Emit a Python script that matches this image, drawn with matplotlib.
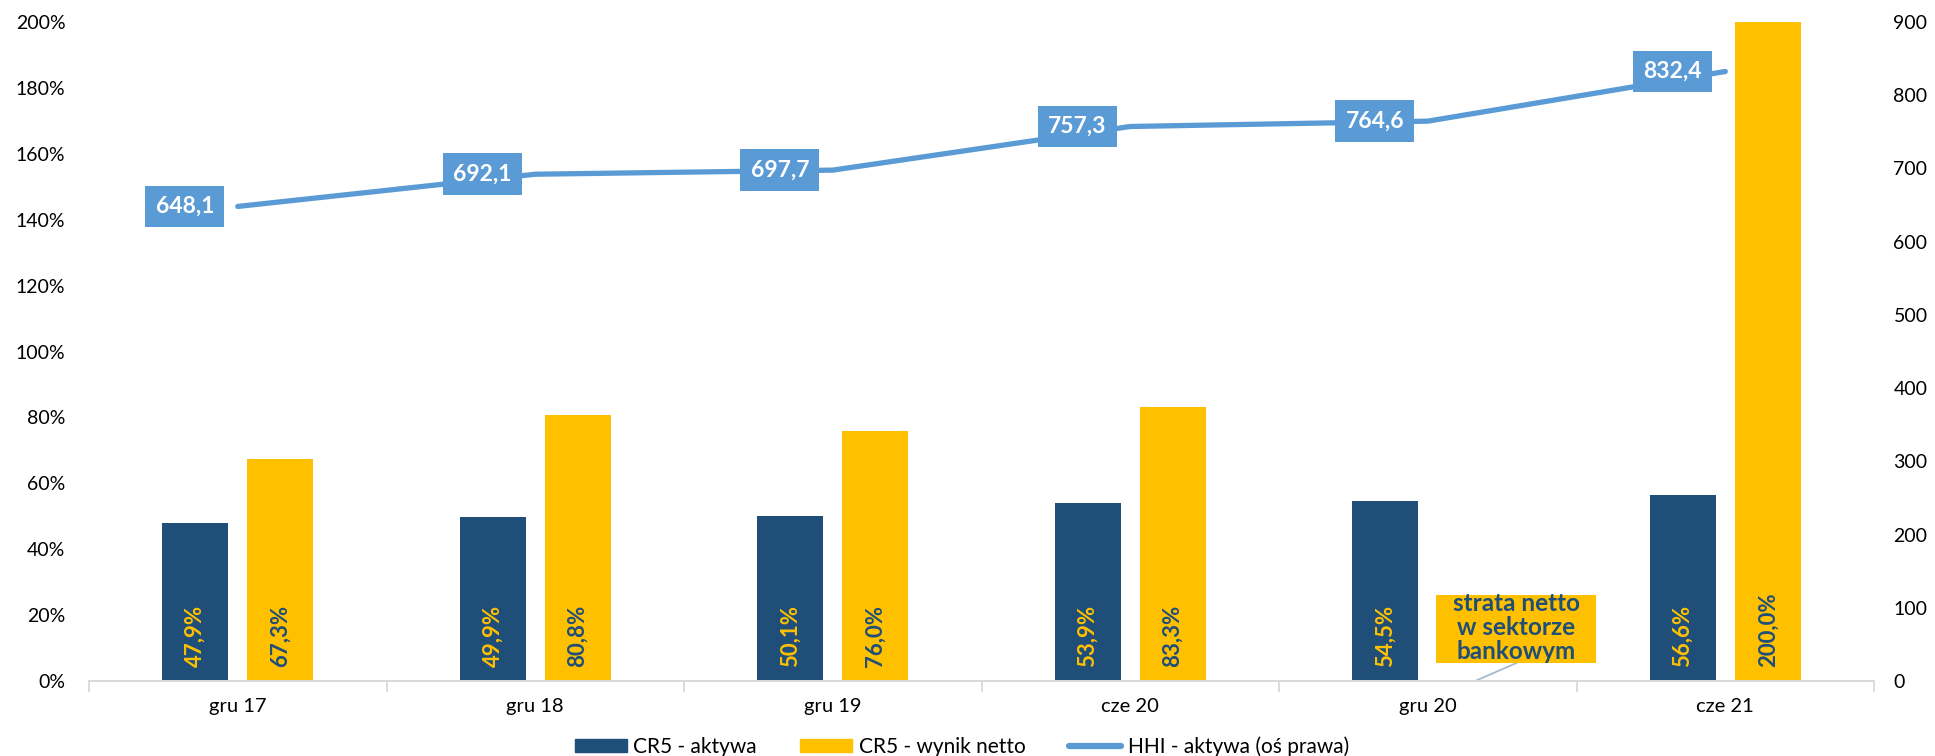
import numpy as np
import matplotlib as mpl

mpl.use('Agg')
import matplotlib.pyplot as plt
from matplotlib.patches import Patch, Rectangle
from matplotlib.lines import Line2D

# data
categories = ['gru 17', 'gru 18', 'gru 19', 'cze 20', 'gru 20', 'cze 21']
cr5_aktywa = [47.9, 49.9, 50.1, 53.9, 54.5, 56.6]
cr5_wynik = [67.3, 80.8, 76.0, 83.3, np.nan, 200.0]
hhi_aktywa = [648.1, 692.1, 697.7, 757.3, 764.6, 832.4]
left_ticks = [0, 20, 40, 60, 80, 100, 120, 140, 160, 180, 200]
right_ticks = [0, 100, 200, 300, 400, 500, 600, 700, 800, 900]
callout_text = 'strata netto\nw sektorze\nbankowym'

# colours
DARK = '#1F4E79'
YELLOW = '#FFC000'
LINE = '#5B9BD5'
GREY = '#D9D9D9'

plt.rcParams['font.family'] = ['Lato', 'DejaVu Sans']


def fmt(v, dec=1, pct=False):
    s = ('%.' + str(dec) + 'f') % v
    s = s.replace('.', ',')
    return s + '%' if pct else s


figure = plt.figure(figsize=(19.35, 7.56), dpi=100)
ax = figure.add_axes([0.046, 0.0992, 0.9225, 0.8717])
ax2 = ax.twinx()

x = np.arange(len(categories))
off = 0.143
width = 0.222

# bars
ax.bar(x - off, cr5_aktywa, width, color=DARK, zorder=2)
ax.bar(x + off, cr5_wynik, width, color=YELLOW, zorder=2)

# bar labels, rotated, sitting at the base
for i in range(len(categories)):
    ax.annotate(fmt(cr5_aktywa[i], pct=True), (x[i] - off, 0),
                xytext=(0, 10), textcoords='offset points', rotation=90,
                ha='center', va='bottom', color=YELLOW, fontsize=16,
                fontweight='bold', zorder=4)
    if not np.isnan(cr5_wynik[i]):
        ax.annotate(fmt(cr5_wynik[i], pct=True), (x[i] + off, 0),
                    xytext=(0, 10), textcoords='offset points', rotation=90,
                    ha='center', va='bottom', color=DARK, fontsize=16,
                    fontweight='bold', zorder=4)

# line on the right axis
ax2.plot(x, hhi_aktywa, color=LINE, lw=3.8, solid_capstyle='round', zorder=3)
for i, v in enumerate(hhi_aktywa):
    ax2.annotate(fmt(v), (x[i], v), xytext=(-17, 0), textcoords='offset points',
                 ha='right', va='center', color='white', fontsize=16.5,
                 fontweight='bold', zorder=4,
                 bbox=dict(boxstyle='square,pad=0.45', fc=LINE, ec='none'))

# callout for the missing value (gru 20)
cx, cy = x[4] + 0.298, 15.76
bw, bh = 0.538, 20.6
ax.add_patch(Rectangle((cx - bw / 2, cy - bh / 2), bw, bh, fc=YELLOW,
                       ec='none', zorder=5))
ax.plot([cx, x[4] + 0.159], [cy - bh / 2, 0], color='#A6B9CE', lw=1.3,
        zorder=1)
ax.text(cx, cy + 0.4, callout_text, ha='center', va='center', color=DARK,
        fontsize=17.5, fontweight='bold', linespacing=1.05, zorder=6)

# axes
ax.set_xlim(-0.5, len(categories) - 0.5)
ax.set_ylim(0, 200)
ax2.set_ylim(0, 900)
ax.set_yticks(left_ticks)
ax.set_yticklabels(['%d%%' % t for t in left_ticks])
ax2.set_yticks(right_ticks)
ax2.set_yticklabels([str(t) for t in right_ticks])

ax.set_xticks(x)
ax.set_xticklabels(categories)
ax.set_xticks(np.arange(-0.5, len(categories)), minor=True)
ax.tick_params(axis='x', which='major', length=0, pad=12, labelsize=14.5)
ax.tick_params(axis='x', which='minor', length=8, color=GREY, width=1.3)
ax.tick_params(axis='y', length=0, labelsize=14, pad=17)
ax2.tick_params(axis='y', length=0, labelsize=14, pad=14)

for a in (ax, ax2):
    for s in ['top', 'left', 'right']:
        a.spines[s].set_visible(False)
    a.spines['bottom'].set_color(GREY)
    a.spines['bottom'].set_linewidth(1.3)

# legend below
handles = [Patch(color=DARK), Patch(color=YELLOW),
           Line2D([0], [0], color=LINE, lw=4.5, solid_capstyle='round')]
labels = ['CR5 - aktywa', 'CR5 - wynik netto', 'HHI - aktywa (oś prawa)']
figure.legend(handles, labels, loc='center', bbox_to_anchor=(0.497, 0.012),
              ncol=3, frameon=False, fontsize=15, handlelength=2.5,
              handleheight=0.6, columnspacing=2.1, handletextpad=0.3)

figure.savefig('out.png', dpi=100)
plt.close(figure)
